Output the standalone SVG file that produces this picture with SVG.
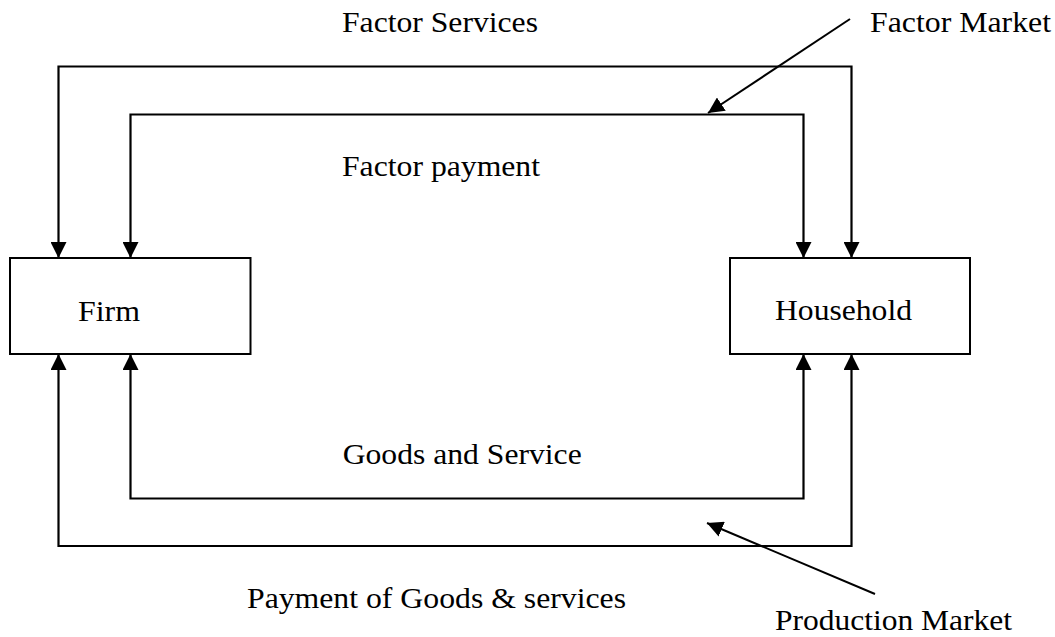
<svg xmlns="http://www.w3.org/2000/svg" width="1055" height="637" viewBox="0 0 1055 637">
<style>
  .box { fill: #fff; stroke: #000; stroke-width: 2; }
  .flow { fill: none; stroke: #000; stroke-width: 2.2; marker-start: url(#ah); marker-end: url(#ah); }
  .ptr { fill: none; stroke: #000; stroke-width: 2; marker-end: url(#ah); }
</style>
<defs>
  <marker id="ah" markerUnits="userSpaceOnUse" markerWidth="16" markerHeight="16" viewBox="0 0 15 15" refX="15" refY="7.5" orient="auto-start-reverse">
    <path d="M0,0 L15,7.5 L0,15 z" fill="#000"/>
  </marker>
</defs>
<rect width="1055" height="637" fill="#fff"/>
<g id="connectors">
  <path class="flow" d="M58.5,258 V66.5 H851.5 V258"/>
  <path class="flow" d="M130.5,258 V114.5 H803.5 V258"/>
  <path class="flow" d="M130.5,354 V498.5 H803.5 V354"/>
  <path class="flow" d="M58.5,354 V546 H851.5 V354"/>
  <path class="ptr" d="M850,19 L708,113"/>
  <path class="ptr" d="M875,594 L707,523"/>
</g>
<g font-family="Liberation Serif, serif" font-size="29" fill="#000">
<g id="firm">
  <rect class="box" x="10" y="258" width="240.5" height="96"/>
  <text x="78" y="320.5" textLength="62" lengthAdjust="spacingAndGlyphs">Firm</text>
</g>
<g id="household">
  <rect class="box" x="730" y="258" width="240" height="96"/>
  <text x="775" y="320" textLength="137" lengthAdjust="spacingAndGlyphs">Household</text>
</g>
<g id="labels">
  <text x="342" y="32.3" textLength="196" lengthAdjust="spacingAndGlyphs">Factor Services</text>
  <text x="870" y="32.3" textLength="181" lengthAdjust="spacingAndGlyphs">Factor Market</text>
  <text x="342" y="176" textLength="198" lengthAdjust="spacingAndGlyphs">Factor payment</text>
  <text x="342.7" y="464.3" textLength="239" lengthAdjust="spacingAndGlyphs">Goods and Service</text>
  <text x="247" y="607.7" textLength="379" lengthAdjust="spacingAndGlyphs">Payment of Goods &amp; services</text>
  <text x="775" y="630" textLength="237" lengthAdjust="spacingAndGlyphs">Production Market</text>
</g>
</g>
</svg>
